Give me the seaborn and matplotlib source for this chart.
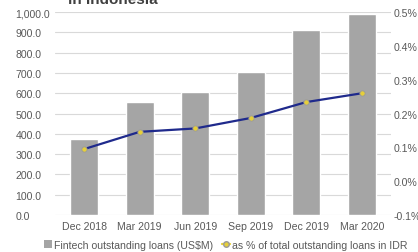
import matplotlib
matplotlib.use("Agg")
import matplotlib.pyplot as plt
from matplotlib.lines import Line2D
from matplotlib.patches import Patch
import seaborn as sns
import pandas as pd

# Values
quarters = ["Dec 2018", "Mar 2019", "Jun 2019", "Sep 2019", "Dec 2019", "Mar 2020"]
loans_usd_m = [374, 557, 606, 705, 911, 990]
pct_of_idr_loans = [0.095, 0.146, 0.156, 0.187, 0.234, 0.260]
left_ticks = [0, 100, 200, 300, 400, 500, 600, 700, 800, 900, 1000]
right_ticks = [-0.1, 0.0, 0.1, 0.2, 0.3, 0.4, 0.5]

df = pd.DataFrame({"quarter": quarters, "loans": loans_usd_m, "pct": pct_of_idr_loans})

sns.set_theme(style="white")
plt.rcParams["font.family"] = ["Liberation Sans", "DejaVu Sans"]
txt = "#595959"
fs = 7.6

fig = plt.figure(figsize=(4.18, 2.53), dpi=100)
ax = fig.add_axes([0.1316, 0.146, 0.804, 0.8024])

sns.barplot(data=df, x="quarter", y="loans", color="#a5a5a5", width=0.5,
            saturation=1, ax=ax, zorder=2)
ax.set_ylim(0, 1000)
ax.set_yticks(left_ticks)
ax.set_yticklabels([f"{v:,.1f}" for v in left_ticks])
ax.yaxis.grid(True, color="#d9d9d9", linewidth=0.8, zorder=0)
ax.set_axisbelow(True)
ax.set_xlabel("")
ax.set_ylabel("")
for s in ax.spines.values():
    s.set_visible(False)
ax.tick_params(axis="both", length=0, labelsize=fs, colors=txt, pad=4)
ax.tick_params(axis="y", pad=28.5)
for lab in ax.get_yticklabels():
    lab.set_horizontalalignment("left")

ax2 = ax.twinx()
ax2.plot(range(len(quarters)), pct_of_idr_loans, color="#1f2a8c", linewidth=1.6,
         marker="o", markersize=3.8, markerfacecolor="#e6cf3a",
         markeredgecolor="#9a9a9a", markeredgewidth=0.6, zorder=3)
ax2.set_ylim(-0.1, 0.5)
ax2.set_yticks(right_ticks)
ax2.set_yticklabels([f"{v:.1f}%" for v in right_ticks])
ax2.grid(False)
for s in ax2.spines.values():
    s.set_visible(False)
ax2.tick_params(axis="y", length=0, labelsize=fs, colors=txt, pad=1.5)

# title is cut off at the top edge in the reference
fig.text(0.163, 0.984, "in Indonesia", fontsize=11, fontweight="bold",
         color="#404040", ha="left", va="baseline")

handles = [
    Patch(facecolor="#a5a5a5", edgecolor="none"),
    Line2D([0], [0], color="#e6cf3a", marker="o", markersize=4,
           markerfacecolor="#e6cf3a", markeredgecolor="#9a9a9a", linewidth=1.6),
]
labels = ["Fintech outstanding loans (US$M)", "as % of total outstanding loans in IDR"]
fig.legend(handles, labels, loc="center", bbox_to_anchor=(0.54, 0.028), ncol=2,
           frameon=False, fontsize=fs, labelcolor=txt, handlelength=0.8,
           handleheight=0.8, handletextpad=0.2, columnspacing=0.8,
           borderpad=0, borderaxespad=0)

fig.savefig("out.png", dpi=100)
